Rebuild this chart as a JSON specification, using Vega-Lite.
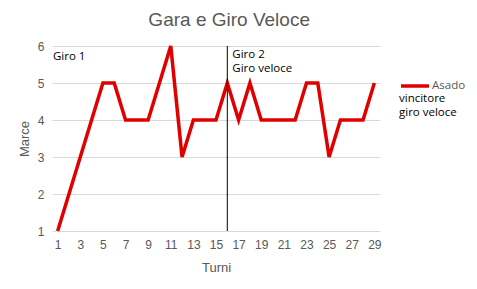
{
  "$schema": "https://vega.github.io/schema/vega-lite/v6.json",
  "width": 328,
  "height": 185,
  "padding": {"top": 11, "left": 18, "right": 5, "bottom": 5},
  "background": "white",
  "title": {
    "text": "Gara e Giro Veloce",
    "font": "Liberation Sans",
    "fontSize": 19,
    "fontWeight": "normal",
    "color": "#595959",
    "anchor": "middle",
    "frame": "bounds",
    "offset": 9,
    "dx": -13
  },
  "config": {
    "view": {"stroke": null},
    "axis": {
      "labelFont": "Liberation Sans",
      "titleFont": "Liberation Sans",
      "labelColor": "#595959",
      "titleColor": "#595959",
      "labelFontSize": 12,
      "titleFontSize": 13,
      "titleFontWeight": "normal",
      "ticks": false,
      "domain": false,
      "labelOverlap": false
    }
  },
  "layer": [
    {
      "data": {
        "values": [
          {"turno": 1, "marce": 1}, {"turno": 2, "marce": 2}, {"turno": 3, "marce": 3},
          {"turno": 4, "marce": 4}, {"turno": 5, "marce": 5}, {"turno": 6, "marce": 5},
          {"turno": 7, "marce": 4}, {"turno": 8, "marce": 4}, {"turno": 9, "marce": 4},
          {"turno": 10, "marce": 5}, {"turno": 11, "marce": 6}, {"turno": 12, "marce": 3},
          {"turno": 13, "marce": 4}, {"turno": 14, "marce": 4}, {"turno": 15, "marce": 4},
          {"turno": 16, "marce": 5}, {"turno": 17, "marce": 4}, {"turno": 18, "marce": 5},
          {"turno": 19, "marce": 4}, {"turno": 20, "marce": 4}, {"turno": 21, "marce": 4},
          {"turno": 22, "marce": 4}, {"turno": 23, "marce": 5}, {"turno": 24, "marce": 5},
          {"turno": 25, "marce": 3}, {"turno": 26, "marce": 4}, {"turno": 27, "marce": 4},
          {"turno": 28, "marce": 4}, {"turno": 29, "marce": 5}
        ]
      },
      "mark": {"type": "line", "strokeWidth": 3.5, "strokeJoin": "miter"},
      "encoding": {
        "x": {
          "field": "turno",
          "type": "quantitative",
          "scale": {"domain": [0.5, 29.5], "nice": false, "zero": false},
          "axis": {
            "title": "Turni",
            "values": [1, 3, 5, 7, 9, 11, 13, 15, 17, 19, 21, 23, 25, 27, 29],
            "tickCount": 40,
            "format": "d",
            "grid": false,
            "labelOverlap": false,
            "labelPadding": 8,
            "titlePadding": 11
          }
        },
        "y": {
          "field": "marce",
          "type": "quantitative",
          "scale": {"domain": [1, 6], "nice": false, "zero": false},
          "axis": {
            "title": "Marce",
            "values": [1, 2, 3, 4, 5, 6],
            "tickCount": 10,
            "format": "d",
            "grid": true,
            "gridColor": "#d9d9d9",
            "labelOverlap": false,
            "labelPadding": 8,
            "titlePadding": 6
          }
        },
        "color": {
          "datum": "Asado",
          "scale": {"range": ["#e00000"]},
          "legend": {
            "title": ["vincitore", "giro veloce"],
            "titleOrient": "bottom",
            "titleFont": "Open Sans",
            "titleFontSize": 11.5,
            "titleFontWeight": "normal",
            "titleColor": "#000000",
            "titleLineHeight": 14,
            "titlePadding": 0,
            "orient": "none",
            "legendX": 347,
            "legendY": 24,
            "symbolType": "stroke",
            "symbolStrokeWidth": 3.5,
            "symbolSize": 784,
            "labelOffset": 1,
            "labelFont": "Open Sans",
            "labelFontSize": 11.5,
            "labelColor": "#595959",
            "labelLimit": 200
          }
        }
      }
    },
    {
      "data": {"values": [{"turno": 16}]},
      "mark": {"type": "rule", "color": "black", "strokeWidth": 1},
      "encoding": {
        "x": {"field": "turno", "type": "quantitative"}
      }
    },
    {
      "data": {"values": [{"turno": 0.5, "marce": 6, "nota": "Giro 1"}]},
      "mark": {"type": "text", "align": "left", "baseline": "top", "dx": 1, "dy": 5, "font": "Open Sans", "fontSize": 11.5, "fontWeight": "normal", "fill": "black"},
      "encoding": {
        "x": {"field": "turno", "type": "quantitative"},
        "y": {"field": "marce", "type": "quantitative"},
        "text": {"field": "nota"}
      }
    },
    {
      "data": {"values": [{"turno": 16, "marce": 6, "nota": ["Giro 2", "Giro veloce"]}]},
      "mark": {"type": "text", "align": "left", "baseline": "top", "dx": 5, "dy": 3, "lineHeight": 14, "font": "Open Sans", "fontSize": 11.5, "fontWeight": "normal", "fill": "black"},
      "encoding": {
        "x": {"field": "turno", "type": "quantitative"},
        "y": {"field": "marce", "type": "quantitative"},
        "text": {"field": "nota"}
      }
    }
  ]
}
